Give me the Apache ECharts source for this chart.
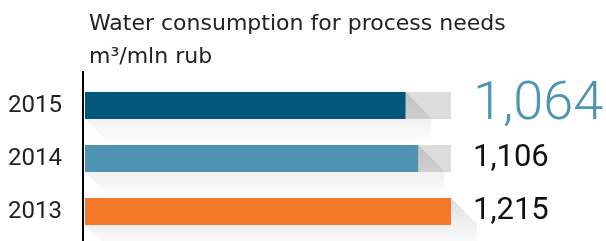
<!DOCTYPE html>
<html>
<head>
<meta charset="utf-8">
<script src="https://cdn.jsdelivr.net/npm/echarts@6/dist/echarts.min.js"></script>
<style>
html,body{margin:0;padding:0;background:#fff;}
#c{width:606px;height:241px;}
</style>
</head>
<body>
<div id="c"></div>
<script>
const titleLines = ['Water consumption for process needs', 'm\u00b3/mln rub'];
const years = ['2015', '2014', '2013'];
const values = [1064, 1106, 1215];
const valueLabels = ['1,064', '1,106', '1,215'];
const barColors = ['#03577a', '#4e93b1', '#f47a2a'];

const trackMax = Math.max.apply(null, values);
const BW = 27, L = 26;

const chart = echarts.init(document.getElementById('c'), null, {renderer: 'canvas'});
chart.setOption({
  animation: false,
  title: {
    text: titleLines.join('\n'),
    left: 84, top: 3,
    textStyle: {fontFamily: 'DejaVu Sans', fontSize: 22, fontWeight: 'normal', color: '#222', lineHeight: 33}
  },
  grid: {left: 85, right: 155, top: 79, bottom: 3},
  xAxis: {type: 'value', min: 0, max: trackMax, show: false},
  yAxis: {
    type: 'category', data: years, inverse: true,
    axisLine: {show: false}, axisTick: {show: false},
    axisLabel: {fontFamily: 'Roboto', fontSize: 24, color: '#222', margin: 23}
  },
  graphic: [{
    type: 'line', shape: {x1: 83, y1: 71, x2: 83, y2: 241},
    style: {stroke: '#000', lineWidth: 2}, z: 10
  }],
  series: [
    {
      type: 'bar', barWidth: BW, z: 1,
      data: years.map((y, i) => ({
        value: trackMax,
        label: {
          show: true, position: 'right', distance: 22,
          formatter: valueLabels[i],
          fontFamily: 'Roboto',
          fontWeight: i === 0 ? 300 : 'normal',
          fontSize: i === 0 ? 54 : 31,
          color: i === 0 ? barColors[1] : '#111'
        }
      })),
      itemStyle: {color: '#dcdcdc'}
    },
    {
      type: 'custom', z: 2,
      data: values.map((v, i) => [v, i]),
      renderItem: function (params, api) {
        const p0 = api.coord([0, api.value(1)]);
        const p1 = api.coord([api.value(0), api.value(1)]);
        const x0 = p0[0], x1 = p1[0];
        const yt = p1[1] - BW / 2, yb = p1[1] + BW / 2;
        return {
          type: 'polygon',
          shape: {points: [[x0, yt], [x1, yt], [x1 + L, yt + L], [x1 + L, yb + L], [x0 + L, yb + L], [x0, yb]]},
          style: {
            fill: new echarts.graphic.LinearGradient(0, 0, 0, 1, [
              {offset: 0, color: 'rgba(0,0,0,0.13)'},
              {offset: 0.5, color: 'rgba(0,0,0,0.06)'},
              {offset: 1, color: 'rgba(0,0,0,0)'}
            ])
          }
        };
      }
    },
    {
      type: 'bar', barWidth: BW, barGap: '-100%', z: 3,
      data: values.map((v, i) => ({value: v, itemStyle: {color: barColors[i]}}))
    }
  ]
});
</script>
</body>
</html>
